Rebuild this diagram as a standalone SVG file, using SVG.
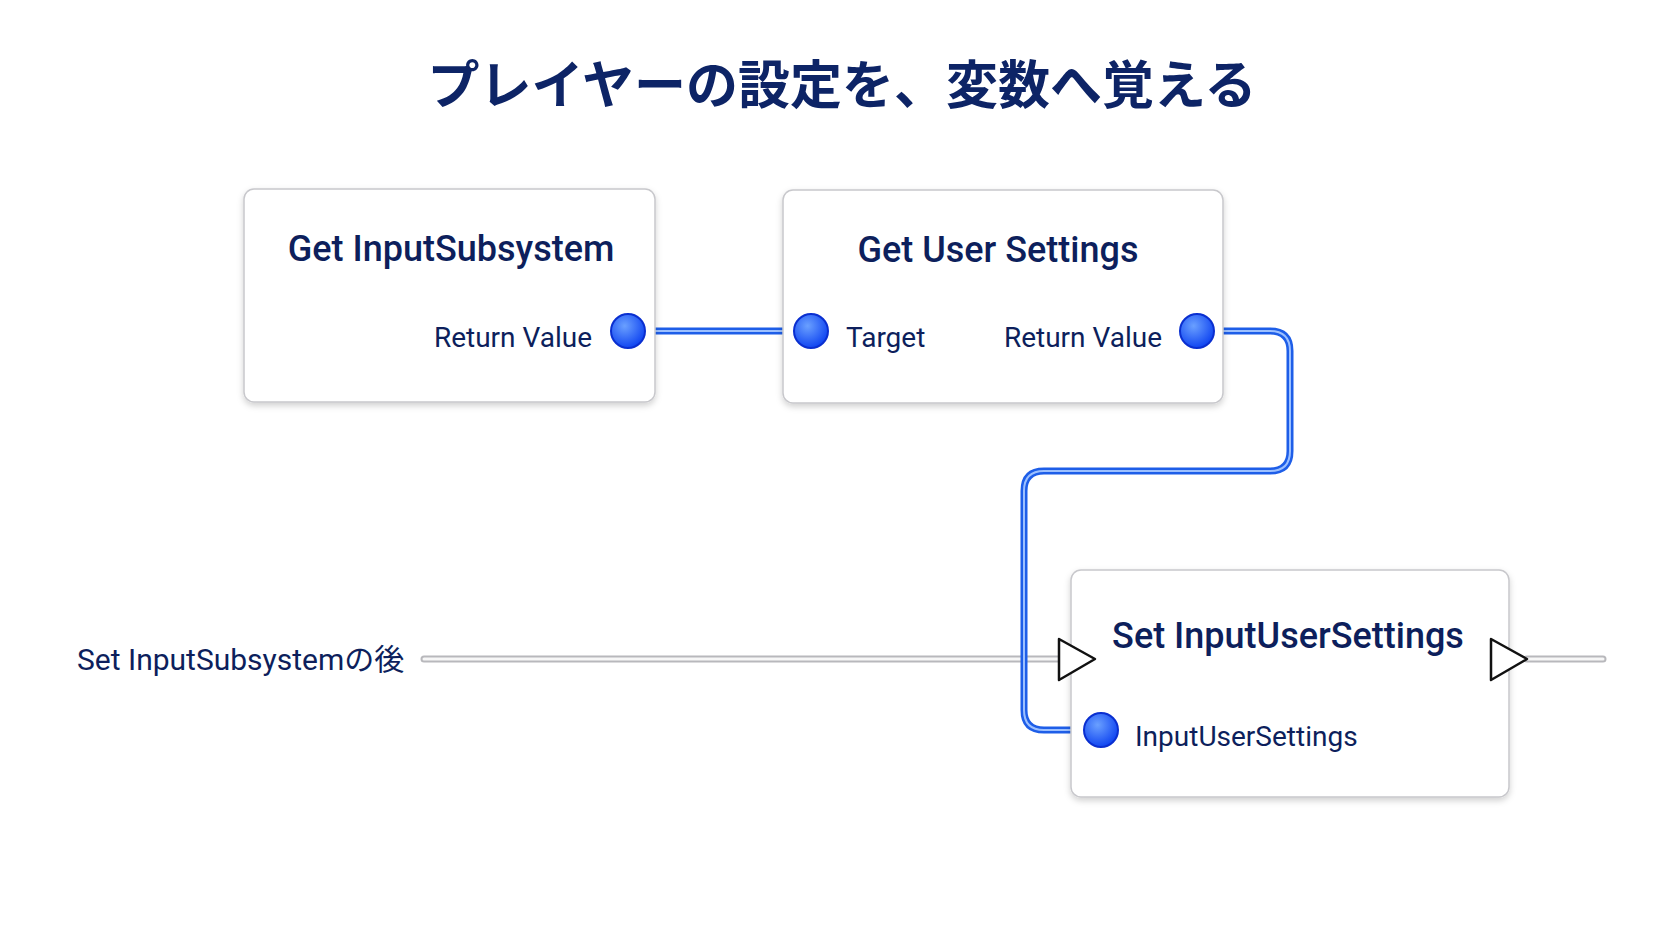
<svg xmlns="http://www.w3.org/2000/svg" width="1672" height="941" viewBox="0 0 1672 941">
<defs>
<filter id="sh" x="-10%" y="-10%" width="120%" height="130%"><feDropShadow dx="0" dy="3" stdDeviation="3" flood-color="#000" flood-opacity="0.18"/></filter>
<radialGradient id="pin" cx="0.4" cy="0.35" r="0.7"><stop offset="0" stop-color="#6aa0ff"/><stop offset="1" stop-color="#0a3ff0"/></radialGradient>
</defs>
<style>
text{font-family:Roboto,"Noto Sans CJK JP",sans-serif;fill:#0d1f5c}
.node{fill:#fff;stroke:#c8c8cc;stroke-width:1.5;filter:url(#sh)}
.t{font-size:36px;font-weight:500;text-anchor:middle}
.l{font-size:28px}
.pin{fill:url(#pin);stroke:#0a2fd0;stroke-width:2}
.wo{fill:none;stroke:#1e5ee8;stroke-width:7;stroke-linejoin:round}
.wi{fill:none;stroke:#9cc0ff;stroke-width:2}
.eo{fill:none;stroke:#b8b8bc;stroke-width:7;stroke-linecap:round}
.ei{fill:none;stroke:#f7f7f7;stroke-width:3;stroke-linecap:round}
.ex{fill:#fff;stroke:#111;stroke-width:2.5;stroke-linejoin:round}
</style>
<rect width="1672" height="941" fill="#fff"/>
<text x="842" y="104" font-size="52" font-weight="700" text-anchor="middle" style="fill:#0d2466">プレイヤーの設定を、変数へ覚える</text>
<g id="connectors">
<path class="eo" d="M424 659H1059M1527 659H1603"/>
<path class="ei" d="M424 659H1059M1527 659H1603"/>
<path class="wo" d="M628 331H811"/><path class="wi" d="M628 331H811"/>
<path class="wo" d="M1197 331H1270Q1290 331 1290 351V451Q1290 471 1270 471H1044Q1024 471 1024 491V710Q1024 730 1044 730H1101"/>
<path class="wi" d="M1197 331H1270Q1290 331 1290 351V451Q1290 471 1270 471H1044Q1024 471 1024 491V710Q1024 730 1044 730H1101"/>
</g>
<g id="n1">
<rect class="node" x="244" y="189" width="411" height="213" rx="10"/>
<text class="t" x="451" y="261">Get InputSubsystem</text>
<text class="l" x="592" y="347" text-anchor="end">Return Value</text>
<circle class="pin" cx="628" cy="331" r="17"/>
</g>
<g id="n2">
<rect class="node" x="783" y="190" width="440" height="213" rx="10"/>
<text class="t" x="998" y="262">Get User Settings</text>
<circle class="pin" cx="811" cy="331" r="17"/>
<text class="l" x="846" y="347">Target</text>
<text class="l" x="1162" y="347" text-anchor="end">Return Value</text>
<circle class="pin" cx="1197" cy="331" r="17"/>
</g>
<g id="n3">
<rect class="node" x="1071" y="570" width="438" height="227" rx="10"/>
<text class="t" x="1288" y="648">Set InputUserSettings</text>
<path class="ex" d="M1059 639L1095 659L1059 680Z"/>
<path class="ex" d="M1491 639L1527 659L1491 680Z"/>
<circle class="pin" cx="1101" cy="730" r="17"/>
<text class="l" x="1135" y="746">InputUserSettings</text>
</g>
<g id="lbl"><text x="77" y="670" font-size="30">Set InputSubsystemの後</text></g>
</svg>
